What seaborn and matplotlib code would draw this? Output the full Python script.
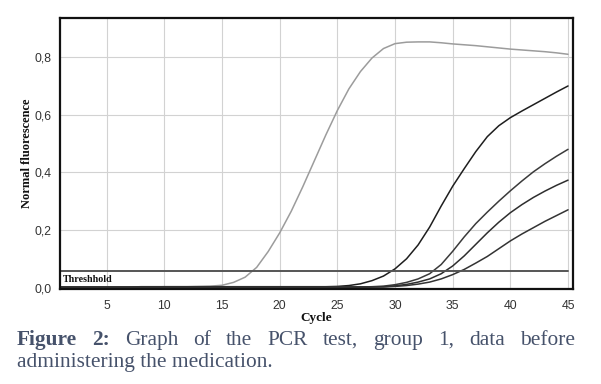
import numpy as np
import pandas as pd
import matplotlib
matplotlib.use("Agg")
import matplotlib.pyplot as plt
import seaborn as sns

# ---------------- data ----------------
cycles = list(range(1, 46))

sample_gray = [0.000, 0.001, 0.001, 0.001, 0.002, 0.002, 0.002, 0.002, 0.002, 0.003,
               0.003, 0.003, 0.004, 0.005, 0.008, 0.018, 0.036, 0.070, 0.125, 0.190,
               0.265, 0.350, 0.440, 0.530, 0.615, 0.690, 0.750, 0.797, 0.830, 0.847,
               0.852, 0.853, 0.853, 0.850, 0.846, 0.843, 0.840, 0.836, 0.832, 0.828,
               0.825, 0.822, 0.819, 0.815, 0.810]

sample_a = [0.002, 0.002, 0.002, 0.002, 0.002, 0.002, 0.002, 0.003, 0.003, 0.003,
            0.003, 0.003, 0.003, 0.003, 0.003, 0.003, 0.003, 0.003, 0.003, 0.003,
            0.003, 0.003, 0.003, 0.003, 0.004, 0.007, 0.013, 0.024, 0.040, 0.065,
            0.100, 0.148, 0.210, 0.283, 0.352, 0.413, 0.472, 0.524, 0.562, 0.590,
            0.613, 0.635, 0.657, 0.679, 0.700]

sample_b = [0.001, 0.001, 0.001, 0.001, 0.001, 0.001, 0.001, 0.001, 0.001, 0.001,
            0.001, 0.001, 0.001, 0.001, 0.001, 0.001, 0.001, 0.001, 0.001, 0.001,
            0.001, 0.001, 0.001, 0.001, 0.002, 0.002, 0.002, 0.003, 0.005, 0.010,
            0.018, 0.030, 0.048, 0.080, 0.126, 0.176, 0.222, 0.262, 0.300, 0.336,
            0.370, 0.402, 0.430, 0.456, 0.480]

sample_c = [0.001, 0.001, 0.001, 0.001, 0.001, 0.001, 0.001, 0.001, 0.001, 0.001,
            0.001, 0.001, 0.001, 0.001, 0.001, 0.001, 0.001, 0.001, 0.001, 0.001,
            0.001, 0.001, 0.001, 0.001, 0.001, 0.002, 0.002, 0.002, 0.003, 0.006,
            0.011, 0.019, 0.030, 0.048, 0.075, 0.110, 0.150, 0.190, 0.227, 0.260,
            0.288, 0.313, 0.335, 0.355, 0.373]

sample_d = [0.001, 0.001, 0.001, 0.001, 0.001, 0.001, 0.001, 0.001, 0.001, 0.001,
            0.001, 0.001, 0.001, 0.001, 0.001, 0.001, 0.001, 0.001, 0.001, 0.001,
            0.001, 0.001, 0.001, 0.001, 0.001, 0.001, 0.001, 0.002, 0.002, 0.004,
            0.007, 0.012, 0.019, 0.030, 0.045, 0.063, 0.085, 0.108, 0.135, 0.162,
            0.186, 0.208, 0.230, 0.250, 0.270]

THRESHOLD = 0.056
x_ticks = [5, 10, 15, 20, 25, 30, 35, 40, 45]
y_ticks = [0.0, 0.2, 0.4, 0.6, 0.8]
y_tick_labels = ["0,0", "0,2", "0,4", "0,6", "0,8"]

samples = {"S1": sample_gray, "S2": sample_a, "S3": sample_b, "S4": sample_c, "S5": sample_d}
palette = {"S1": "#9c9c9c", "S2": "#1e1e1e", "S3": "#3a3a3a", "S4": "#2e2e2e", "S5": "#333333"}

df = pd.concat([pd.DataFrame({"cycle": cycles, "fluor": v, "sample": k})
                for k, v in samples.items()], ignore_index=True)

# ---------------- plot ----------------
sns.set_style("white")
plt.rcParams["font.family"] = ["Liberation Sans", "DejaVu Sans"]

W, H = 601, 384
fig = plt.figure(figsize=(W / 100, H / 100), dpi=100)
ax = fig.add_axes([60 / W, 1 - 289 / H, 513 / W, 271 / H])

ax.set_xlim(0.95, 45.43)
ax.set_ylim(-0.005, 0.936)

ax.set_xticks(x_ticks)
ax.set_yticks(y_ticks)
ax.set_yticklabels(y_tick_labels)
ax.grid(True, color="#d2d2d2", linewidth=0.8)
ax.set_axisbelow(True)

sns.lineplot(data=df, x="cycle", y="fluor", hue="sample", palette=palette,
             legend=False, ax=ax, linewidth=1.1, estimator=None)

x0, x1 = ax.get_xlim()
ax.axhline(THRESHOLD, xmin=0, xmax=(45 - x0) / (x1 - x0), color="#555555", linewidth=1.4)
ax.text(1.2, THRESHOLD - 0.011, "Threshhold", fontsize=7.2, fontweight="bold",
        family=["Liberation Serif", "DejaVu Serif"], va="top", ha="left", color="#111111")

for s in ax.spines.values():
    s.set_color("#111111")
    s.set_linewidth(1.6)
    s.set_visible(True)

ax.tick_params(axis="both", direction="out", length=3, width=0.8, color="#666666",
               labelsize=8.8, labelcolor="#333333", pad=3)
ax.tick_params(axis="x", pad=5)

ax.set_xlabel("Cycle", fontsize=9.5, fontweight="bold",
              family=["Liberation Serif", "DejaVu Serif"], color="#111111")
ax.set_ylabel("Normal fluorescence", fontsize=9, fontweight="bold",
              family=["Liberation Serif", "DejaVu Serif"], color="#111111")
ax.yaxis.set_label_coords((27 - 60) / 513, 0.5)
ax.xaxis.set_label_coords(0.5, (289 - 318) / 271)
ax.xaxis.label.set_va("center")
ax.yaxis.label.set_va("center")

# ---------------- caption ----------------
cap_color = "#46526b"
cap_family = ["Liberation Serif", "DejaVu Serif"]
fig.canvas.draw()
renderer = fig.canvas.get_renderer()

probe = fig.text(0, 0, "administering the medication.", fontsize=14, family=cap_family)
wprobe = probe.get_window_extent(renderer).width
probe.remove()
cap_size = 14 * 256 / wprobe

line1 = [("Figure", "bold"), ("2:", "bold"), ("Graph", "normal"), ("of", "normal"),
         ("the", "normal"), ("PCR", "normal"), ("test,", "normal"), ("group", "normal"),
         ("1,", "normal"), ("data", "normal"), ("before", "normal")]
left_px, right_px = 17, 575
texts, widths = [], []
for w, wt in line1:
    t = fig.text(0, 1 - 345 / H, w, fontsize=cap_size, fontweight=wt, family=cap_family,
                 color=cap_color, va="baseline", ha="left")
    texts.append(t)
    widths.append(t.get_window_extent(renderer).width)
gap = (right_px - left_px - sum(widths)) / (len(widths) - 1)
xpos = left_px
for t, wdt in zip(texts, widths):
    t.set_x(xpos / W)
    xpos += wdt + gap

fig.text(left_px / W, 1 - 367 / H, "administering the medication.", fontsize=cap_size,
         family=cap_family, color=cap_color, va="baseline", ha="left")

fig.savefig("out.png", dpi=100)
